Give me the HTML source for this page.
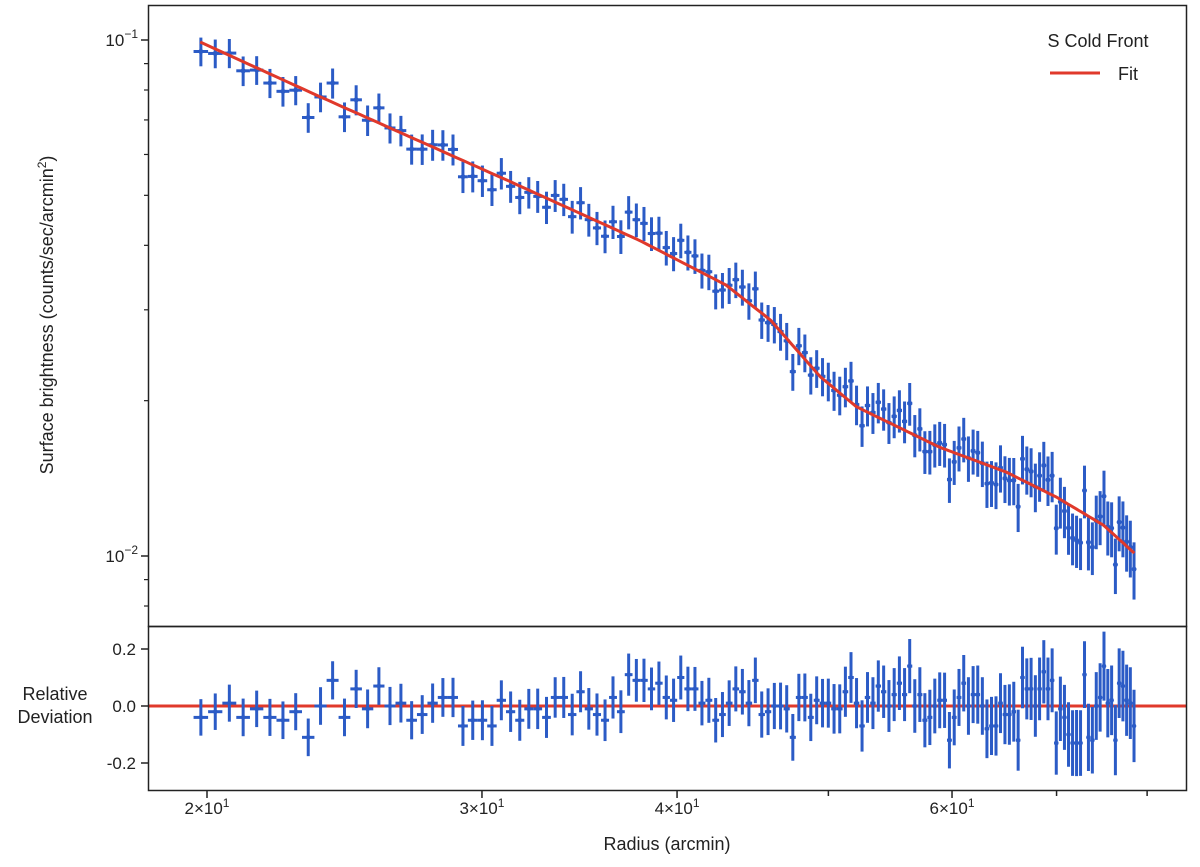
<!DOCTYPE html>
<html><head><meta charset="utf-8"><style>
body{margin:0;background:#fff;}
svg text{font-family:"Liberation Sans",sans-serif;fill:#222;}
</style></head><body>
<svg id="chart" width="1200" height="862" xmlns="http://www.w3.org/2000/svg">
<rect x="0" y="0" width="1200" height="862" fill="#fff"/>
<g id="marks"></g>
<rect x="148.5" y="5.5" width="1038" height="621" fill="none" stroke="#222" stroke-width="1.5"/>
<rect x="148.5" y="626.5" width="1038" height="164" fill="none" stroke="#222" stroke-width="1.5"/>
<g id="axes"></g>
<text transform="translate(53,315) rotate(-90)" text-anchor="middle" font-size="18">Surface brightness (counts/sec/arcmin<tspan dy="-7" font-size="12">2</tspan><tspan dy="7">)</tspan></text>
<text text-anchor="middle" font-size="18"><tspan x="55" y="700">Relative</tspan><tspan x="55" y="723">Deviation</tspan></text>
<text x="667" y="850" text-anchor="middle" font-size="18">Radius (arcmin)</text>
<g>
<text x="1098" y="47" text-anchor="middle" font-size="18">S Cold Front</text>
<line x1="1050" y1="73" x2="1100" y2="73" stroke="#e0392b" stroke-width="3"/>
<text x="1118" y="80" font-size="18">Fit</text>
</g>
</svg>
<script>
const radius=[19.82,20.245,20.67,21.095,21.52,21.945,22.37,22.795,23.22,23.645,24.07,24.495,24.92,25.345,25.77,26.195,26.62,27.045,27.47,27.895,28.32,28.745,29.17,29.595,30.02,30.445,30.87,31.295,31.72,32.145,32.57,32.995,33.42,33.845,34.27,34.695,35.12,35.545,35.97,36.395,36.82,37.245,37.67,38.095,38.52,38.945,39.37,39.795,40.22,40.645,41.07,41.495,41.92,42.345,42.77,43.195,43.62,44.045,44.47,44.895,45.32,45.745,46.17,46.595,47.02,47.445,47.87,48.295,48.72,49.145,49.57,49.995,50.42,50.845,51.27,51.695,52.12,52.545,52.97,53.395,53.82,54.245,54.67,55.095,55.52,55.945,56.37,56.795,57.22,57.645,58.07,58.495,58.92,59.345,59.77,60.195,60.62,61.045,61.47,61.895,62.32,62.745,63.17,63.595,64.02,64.445,64.87,65.295,65.72,66.145,66.57,66.995,67.42,67.845,68.27,68.695,69.12,69.545,69.97,70.395,70.82,71.245,71.67,72.095,72.52,72.945,73.37,73.795,74.22,74.645,75.07,75.495,75.92,76.345,76.77,77.195,77.62,78.045,78.47];
const deviation=[-0.04,-0.02,0.01,-0.04,-0.01,-0.04,-0.05,-0.02,-0.11,0.00,0.09,-0.04,0.06,-0.01,0.07,0.00,0.01,-0.05,-0.03,0.01,0.03,0.03,-0.07,-0.05,-0.05,-0.07,
0.02,-0.02,-0.05,-0.01,-0.01,-0.04,0.03,0.03,-0.03,0.05,-0.01,-0.03,-0.05,0.03,-0.02,0.11,0.09,0.09,0.06,0.08,0.03,0.02,0.10,0.06,0.06,0.01,0.02,-0.05,-0.03,0.01,0.06,0.05,0.01,0.09,-0.03,-0.02,0.00,0.00,-0.01,-0.11,0.03,0.03,-0.04,0.02,
0.01,0.01,-0.01,-0.01,0.05,0.10,0.01,-0.07,0.03,0.01,0.07,0.05,0,0.04,0.08,0.04,0.14,0,0.04,-0.05,-0.04,0,0.02,0.02,-0.12,-0.04,0.03,0.08,0,0.04,0.04,0,-0.08,-0.07,-0.07,0.01,-0.03,-0.03,-0.02,-0.12,0.10,0.06,0.06,0,0.06,0.12,0.06,0.09,-0.13,-0.01,-0.04,-0.10,-0.13,-0.13,-0.13,0.11,-0.11,-0.12,0,0.03,0.14,0.01,0.02,-0.12,0.08,0.07,0.02,0.01,-0.07];
const relError=[0.064,0.064,0.065,0.066,0.064,0.065,0.066,0.065,0.066,0.066,0.067,0.066,0.067,0.068,0.066,0.067,0.068,0.067,0.068,0.069,0.068,0.069,0.07,0.069,0.07,0.07,
0.07,0.071,0.072,0.07,0.071,0.072,0.071,0.072,0.073,0.072,0.073,0.074,0.073,0.074,0.075,0.074,0.075,0.076,0.075,0.076,0.077,0.076,0.077,0.078,0.077,0.078,0.079,0.078,0.079,0.08,0.079,0.08,0.081,0.08,0.081,0.082,0.081,0.082,0.083,0.082,0.083,0.084,0.083,0.084,
0.085,0.086,0.087,0.086,0.088,0.089,0.088,0.09,0.089,0.091,0.09,0.092,0.091,0.093,0.094,0.093,0.095,0.094,0.096,0.095,0.097,0.096,0.098,0.097,0.099,0.098,0.1,0.099,0.101,0.1,0.102,0.101,0.103,0.102,0.104,0.105,0.104,0.106,0.105,0.107,0.108,0.107,0.109,0.108,0.11,0.111,0.11,0.112,0.111,0.113,0.114,0.113,0.115,0.116,0.115,0.117,0.118,0.117,0.119,0.12,0.121,0.12,0.122,0.123,0.122,0.124,0.125,0.126,0.127];
const fitRadius=[19.8,23.5,31.3,37.9,43,45.9,49.4,52.1,58.9,65,70,75,78.5];
const fitValue=[0.0991,0.0782,0.0531,0.0408,0.0335,0.02867,0.02226,0.01947,0.01625,0.01454,0.0130,0.01148,0.01013];
const xTickValues=[20,30,40,50,60,70,80];
const xTickLabels=["2","3","4","","6","",""];
const yMajorValues=[0.1,0.01];
const yMajorExp=["−1","−2"];
const yMinorValues=[0.008,0.009,0.02,0.03,0.04,0.05,0.06,0.07,0.08,0.09];
const resTickValues=[0.2,0.0,-0.2];
const resTickLabels=["0.2","0.0","-0.2"];

const NS="http://www.w3.org/2000/svg";
function X(r){return 207+1561.5*Math.log10(r/20);}
function Y(v){return 40-516*(Math.log10(v)+1);}
function R(d){return 706-285*d;}
function fitAt(r){
  let i=0;while(i<fitRadius.length-2&&r>fitRadius[i+1])i++;
  const a=Math.log10(fitRadius[i]),b=Math.log10(fitRadius[i+1]);
  const t=(Math.log10(r)-a)/(b-a);
  return Math.pow(10,Math.log10(fitValue[i])+t*(Math.log10(fitValue[i+1])-Math.log10(fitValue[i])));
}
function mk(tag,attrs,parent){const e=document.createElementNS(NS,tag);for(const k in attrs)e.setAttribute(k,attrs[k]);parent.appendChild(e);return e;}
const marks=document.getElementById('marks');
const axes=document.getElementById('axes');
const blue="#2b5bc6",red="#e0392b";
const zl=mk('line',{x1:149,x2:1186,y1:R(0),y2:R(0),stroke:red,'stroke-width':3},marks);


let pts=[];
for(let k=0;k<=200;k++){const r=fitRadius[0]+(fitRadius[fitRadius.length-1]-fitRadius[0])*k/200;pts.push(X(r).toFixed(1)+','+Y(fitAt(r)).toFixed(1));}
const half=0.2125;
for(let i=0;i<radius.length;i++){
  const r=radius[i],d=deviation[i],e=relError[i];
  const m=fitAt(r),v=m*(1+d);
  const g=mk('g',{},marks);
  
  
  const x=X(r),y=Y(v);
  mk('line',{x1:x,x2:x,y1:Y(v*(1+e)),y2:Y(v*(1-e)),stroke:blue,'stroke-width':3},g);
  mk('line',{x1:X(r-half),x2:X(r+half),y1:y,y2:y,stroke:blue,'stroke-width':3},g);
  mk('circle',{cx:x,cy:y,r:2.5,fill:blue},g);
  const g2=mk('g',{},marks);
  
  
  const ry=R(d);
  mk('line',{x1:x,x2:x,y1:R(d+e),y2:R(d-e),stroke:blue,'stroke-width':3},g2);
  mk('line',{x1:X(r-half),x2:X(r+half),y1:ry,y2:ry,stroke:blue,'stroke-width':3},g2);
  mk('circle',{cx:x,cy:ry,r:2.3,fill:blue},g2);
}
const fl=mk('polyline',{points:pts.join(' '),fill:'none',stroke:red,'stroke-width':3,'stroke-linejoin':'round'},marks);


xTickValues.forEach((t,i)=>{
  const x=X(t);
  const big=xTickLabels[i]!=="";
  mk('line',{x1:x,x2:x,y1:791,y2:791+(big?7:5),stroke:'#222','stroke-width':1.5},axes);
  if(big){
    const tx=mk('text',{x:x,y:814,'text-anchor':'middle','font-size':17},axes);
    
    
    tx.innerHTML=xTickLabels[i]+'×10<tspan dy="-7" font-size="12">1</tspan>';
  }
});
yMajorValues.forEach((v,i)=>{
  const y=Y(v);
  mk('line',{x1:141,x2:148,y1:y,y2:y,stroke:'#222','stroke-width':1.5},axes);
  const tx=mk('text',{x:138,y:y+6,'text-anchor':'end','font-size':17},axes);
  
  
  tx.innerHTML='10<tspan dy="-8" font-size="12">'+yMajorExp[i]+'</tspan>';
});
yMinorValues.forEach(v=>{const y=Y(v);mk('line',{x1:144,x2:148,y1:y,y2:y,stroke:'#222','stroke-width':1.2},axes);});
resTickValues.forEach((v,i)=>{
  const y=R(v);
  mk('line',{x1:141,x2:148,y1:y,y2:y,stroke:'#222','stroke-width':1.5},axes);
  const tx=mk('text',{x:136,y:y+6,'text-anchor':'end','font-size':17},axes);
  
  
  tx.textContent=resTickLabels[i];
});
</script>
</body></html>
